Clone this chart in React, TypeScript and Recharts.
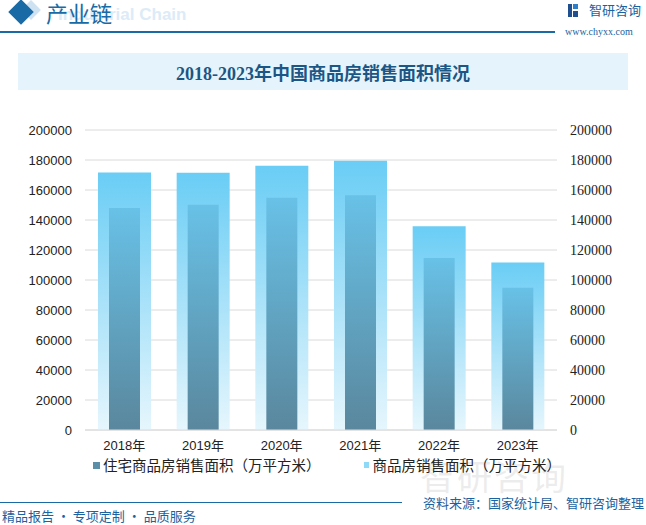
import React from "react";
import {
  BarChart,
  Bar,
  XAxis,
  YAxis,
  CartesianGrid,
} from "recharts";

// 2018-2023 中国商品房销售面积（万平方米）
const years = ["2018年", "2019年", "2020年", "2021年", "2022年", "2023年"];
const residentialArea = [147929, 150144, 154878, 156532, 114631, 94796];
const totalArea = [171654, 171558, 176086, 179433, 135837, 111735];
const yTicks = [0, 20000, 40000, 60000, 80000, 100000, 120000, 140000, 160000, 180000, 200000];

const seriesNames = {
  residential: "住宅商品房销售面积（万平方米）",
  total: "商品房销售面积（万平方米）",
};

const data = years.map((year, i) => ({
  year,
  residential: residentialArea[i],
  total: totalArea[i],
}));

const BLUE = "#1a62a0";
const SANS = "Arial, 'Liberation Sans', 'Noto Sans CJK SC', sans-serif";
const CJK = "'Noto Sans CJK SC', sans-serif";

export default function App() {
  return (
    <div
      style={{
        position: "relative",
        width: 646,
        height: 525,
        background: "#fff",
        overflow: "hidden",
        fontFamily: SANS,
      }}
    >
      <style>{`body{margin:0}`}</style>

      {/* header */}
      <div
        style={{
          position: "absolute",
          left: 24,
          top: 3,
          width: 14,
          height: 14,
          background: "#cfe2f1",
          transform: "rotate(45deg)",
        }}
      />
      <div
        style={{
          position: "absolute",
          left: 12,
          top: 3,
          width: 18,
          height: 18,
          background: "#1a6aa5",
          transform: "rotate(45deg)",
        }}
      />
      <div
        style={{
          position: "absolute",
          left: 58,
          top: 5,
          fontSize: 17,
          fontWeight: 700,
          color: "#dcebf7",
          lineHeight: "20px",
        }}
      >
        Industrial Chain
      </div>
      <div
        style={{
          position: "absolute",
          left: 46,
          top: -1,
          fontSize: 22,
          color: "#1a6aa5",
          lineHeight: "26px",
          fontFamily: CJK,
        }}
      >
        产业链
      </div>
      <div
        style={{
          position: "absolute",
          left: 0,
          top: 31,
          width: 555,
          height: 2,
          background: "#1a6aa5",
        }}
      />
      <div style={{ position: "absolute", left: 568, top: 4, width: 4, height: 13, background: "#1f4f8f" }} />
      <div style={{ position: "absolute", left: 573, top: 4, width: 5, height: 5, background: "#2f7fc8" }} />
      <div style={{ position: "absolute", left: 573, top: 11, width: 5, height: 6, background: "#1f4f8f" }} />
      <div
        style={{
          position: "absolute",
          left: 589,
          top: 2,
          fontSize: 13,
          color: BLUE,
          lineHeight: "16px",
          fontFamily: CJK,
        }}
      >
        智研咨询
      </div>
      <div
        style={{
          position: "absolute",
          left: 565,
          top: 26,
          fontSize: 10,
          color: BLUE,
          lineHeight: "12px",
          fontFamily: "'Liberation Serif', serif",
        }}
      >
        www.chyxx.com
      </div>

      {/* title */}
      <div
        style={{
          position: "absolute",
          left: 18,
          top: 53,
          width: 610,
          height: 37,
          background: "#e5f3fc",
          display: "flex",
          alignItems: "center",
          justifyContent: "center",
          fontSize: 18,
          fontWeight: 700,
          color: "#1b5684",
          fontFamily: "'Liberation Serif', 'Noto Sans CJK SC', serif",
        }}
      >
        2018-2023年中国商品房销售面积情况
      </div>

      {/* watermark logo */}
      <div
        style={{
          position: "absolute",
          left: 420,
          top: 455,
          fontSize: 35,
          color: "rgba(180,180,180,0.25)",
          lineHeight: "40px",
          letterSpacing: 2,
          fontFamily: CJK,
        }}
      >
        智研咨询
      </div>

      <div style={{ position: "absolute", left: 0, top: 0 }}>
        <BarChart
          width={646}
          height={525}
          data={data}
          margin={{ top: 130, right: 0, left: 0, bottom: 65 }}
        >
          <defs>
            <linearGradient id="gTotal" x1="0" y1="0" x2="0" y2="1">
              <stop offset="0%" stopColor="#6acdf5" />
              <stop offset="100%" stopColor="#e6f6fd" />
            </linearGradient>
            <linearGradient id="gRes" x1="0" y1="0" x2="0" y2="1">
              <stop offset="0%" stopColor="#68c1e7" />
              <stop offset="100%" stopColor="#5a879d" />
            </linearGradient>
          </defs>
          <CartesianGrid vertical={false} stroke="#dadada" yAxisId="left" xAxisId="outer" />
          <XAxis
            xAxisId="outer"
            dataKey="year"
            axisLine={{ stroke: "#dadada" }}
            tickLine={false}
            height={30}
            tickMargin={5}
            tick={{ fontSize: 13, fill: "#222", fontFamily: SANS }}
          />
          <XAxis xAxisId="inner" dataKey="year" hide height={0} />
          <YAxis
            yAxisId="left"
            orientation="left"
            width={85}
            domain={[0, 200000]}
            ticks={yTicks}
            axisLine={false}
            tickLine={false}
            tickMargin={7}
            tick={{ fontSize: 13, fill: "#222", fontFamily: SANS }}
          />
          <YAxis
            yAxisId="right"
            orientation="right"
            width={89}
            domain={[0, 200000]}
            ticks={yTicks}
            axisLine={false}
            tickLine={false}
            tickMargin={7}
            tick={{ fontSize: 14, fill: "#222", fontFamily: "'Liberation Serif', serif" }}
          />
          <Bar
            xAxisId="outer"
            yAxisId="left"
            dataKey="total"
            name={seriesNames.total}
            fill="url(#gTotal)"
            barSize={53}
            isAnimationActive={false}
          />
          <Bar
            xAxisId="inner"
            yAxisId="right"
            dataKey="residential"
            name={seriesNames.residential}
            fill="url(#gRes)"
            barSize={31}
            isAnimationActive={false}
          />
        </BarChart>
      </div>

      {/* legend */}
      <div
        style={{
          position: "absolute",
          left: 93,
          top: 456,
          display: "flex",
          alignItems: "center",
          fontSize: 14.5,
          color: "#222",
          lineHeight: "18px",
          fontFamily: CJK,
        }}
      >
        <span style={{ width: 7, height: 7, background: "#5b8ea7", marginRight: 3 }} />
        <span>{seriesNames.residential}</span>
        <span
          style={{
            width: 5,
            height: 6,
            background: "#8fd9f8",
            marginLeft: 43,
            marginRight: 4,
          }}
        />
        <span>{seriesNames.total}</span>
      </div>

      {/* footer */}
      <div
        style={{
          position: "absolute",
          left: 0,
          top: 502,
          width: 402,
          height: 1,
          background: "#1a6aa5",
        }}
      />
      <div
        style={{
          position: "absolute",
          right: 2,
          top: 494,
          fontSize: 13,
          color: BLUE,
          lineHeight: "18px",
          fontFamily: CJK,
        }}
      >
        资料来源：国家统计局、智研咨询整理
      </div>
      <div
        style={{
          position: "absolute",
          left: 2,
          top: 507,
          fontSize: 13,
          color: BLUE,
          lineHeight: "18px",
          fontFamily: CJK,
        }}
      >
        精品报告 · 专项定制 · 品质服务
      </div>
    </div>
  );
}
